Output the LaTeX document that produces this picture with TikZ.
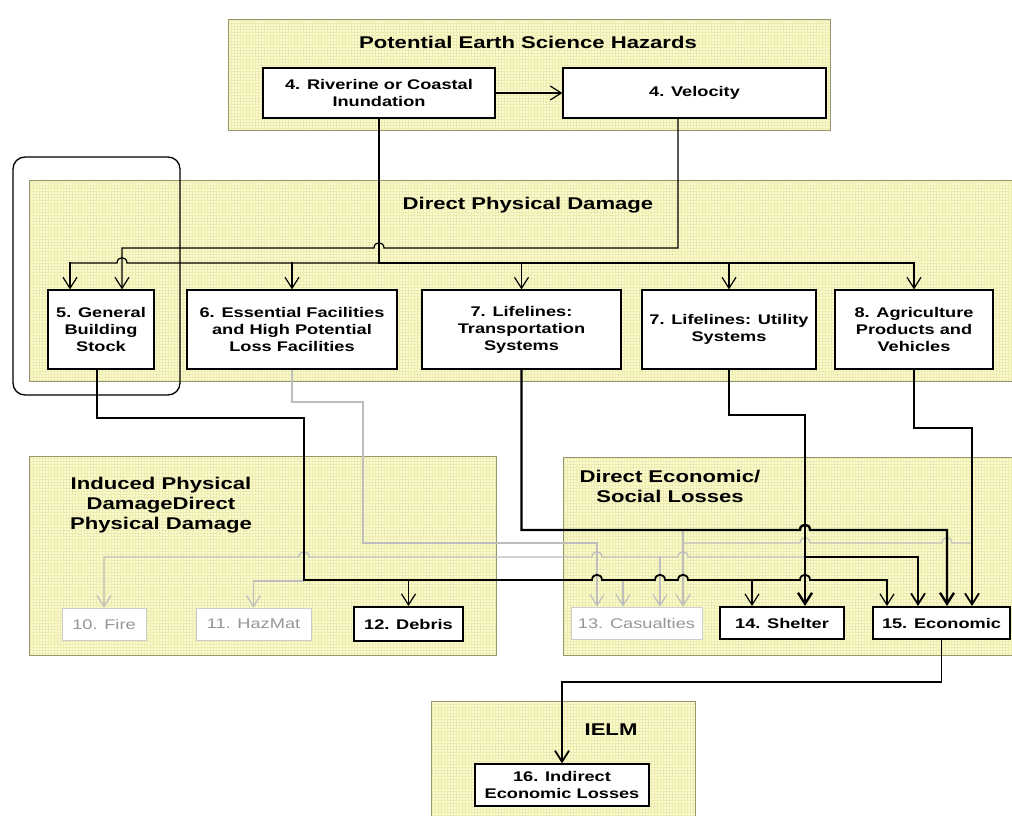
\documentclass[tikz,border=0pt]{standalone}
\usepackage{fontspec}
\setmainfont{Liberation Sans}[FakeStretch=1.3]
\usetikzlibrary{arrows.meta,patterns}

\definecolor{panelfill}{RGB}{251,251,206}
\definecolor{panelgrid}{RGB}{236,236,178}
\definecolor{paneledge}{RGB}{150,150,110}
\definecolor{faintline}{RGB}{190,190,190}
\definecolor{faintedge}{RGB}{205,205,205}
\definecolor{fainttext}{RGB}{150,150,150}

\begin{document}
\begin{tikzpicture}[x=1pt, y=-1pt, >={Straight Barb[length=11pt,width=14pt]},
    panel/.style={preaction={fill=panelfill}, pattern=grid, pattern color=panelgrid, draw=paneledge, line width=0.8pt},
    paneltitle/.style={font=\fontsize{17}{20}\selectfont\bfseries, align=center},
    stage/.style={draw, fill=white, line width=1.3pt, inner sep=0pt, align=center, font=\fontsize{14}{17}\selectfont\bfseries},
    keystage/.style={stage, line width=2pt},
    faintstage/.style={stage, draw=faintedge, line width=0.8pt, text=fainttext, font=\fontsize{14}{17}\selectfont},
    link/.style={line width=1.2pt},
    midlink/.style={line width=1.8pt},
    heavylink/.style={line width=2.4pt},
    faintlink/.style={draw=faintline, line width=1.2pt},
    hopr/.style 2 args={insert path={-- ({#1-5},#2) .. controls ({#1-5},{#2-7}) and ({#1+5},{#2-7}) .. ({#1+5},#2)}},
    hopl/.style 2 args={insert path={-- ({#1+5},#2) .. controls ({#1+5},{#2-7}) and ({#1-5},{#2-7}) .. ({#1-5},#2)}}]
  \useasboundingbox (0,0) rectangle (1012,815);
  % panels
  \draw[panel] (228,19) rectangle (830,130);
  \draw[panel] (29,180) rectangle (1015,381);
  \draw[panel] (29,456) rectangle (496,655);
  \draw[panel] (563,457) rectangle (1015,655);
  \draw[panel] (431,701) rectangle (695,820);
  \node[paneltitle] (hazardtitle) at (528,42) {Potential Earth Science Hazards};
  \node[paneltitle] (physicaltitle) at (528,205) {Direct Physical Damage};
  \node[paneltitle] (inducedtitle) at (161,505) {Induced Physical\\DamageDirect\\Physical Damage};
  \node[paneltitle] (losstitle) at (670,486) {Direct Economic/\\Social Losses};
  \node[paneltitle] (ielmtitle) at (611,730) {IELM};
  \draw[line width=1.3pt, rounded corners=12pt] (13,157) rectangle (180,395);
  % hazard boxes
  \node[stage, minimum width=232pt, minimum height=50pt] (riverine) at (379,93) {4. Riverine or Coastal\\Inundation};
  \node[stage, minimum width=263pt, minimum height=50pt] (velocity) at (694.5,93) {4. Velocity};
  % physical damage boxes
  \foreach \name/\cx/\w/\txt in {bldg/101/106/{5. General\\Building\\Stock},
      essential/292/210/{6. Essential Facilities\\and High Potential\\Loss Facilities},
      transport/521.5/199/{7. Lifelines:\\Transportation\\Systems},
      utility/729/174/{7. Lifelines: Utility\\Systems},
      agri/914/158/{8. Agriculture\\Products and\\Vehicles}} {
    \node[stage, minimum width=\w pt, minimum height=79pt] (\name) at (\cx,329.5) {\txt};
  }
  % loss boxes
  \node[faintstage, minimum width=84pt, minimum height=32pt] (fire) at (104,624) {10. Fire};
  \node[faintstage, minimum width=115pt, minimum height=32pt] (hazmat) at (253.5,624) {11. HazMat};
  \node[keystage, minimum width=109pt, minimum height=34pt] (debris) at (408.5,624) {12. Debris};
  \node[faintstage, minimum width=131pt, minimum height=32pt] (casualties) at (636.5,623) {13. Casualties};
  \node[keystage, minimum width=124pt, minimum height=32pt] (shelter) at (782,623) {14. Shelter};
  \node[keystage, minimum width=137pt, minimum height=32pt] (economic) at (941.5,623) {15. Economic};
  \node[stage, minimum width=174pt, minimum height=42pt] (indirect) at (562,785) {16. Indirect\\Economic Losses};

  % hazards to physical damage
  \draw[link,->] (riverine.east) -- (velocity.west);
  \draw[heavylink] (riverine.south) -- (379,263) -- (729,263);
  \draw[link] (379,263) [hopl={122}{263}] -- (70,263);
  \draw[link] (729,263) -- (914,263);
  \foreach \name in {essential, transport, utility, agri} {
    \draw[link,->] ([yshift=27pt]\name.north) -- (\name.north);
  }
  \draw[link,->] ([xshift=-31pt,yshift=27pt]bldg.north) -- ([xshift=-31pt]bldg.north);
  \draw[link,->] ([xshift=-16.5pt]velocity.south) -- (678,248) [hopl={379}{248}] -- (122,248) -- ([xshift=21pt]bldg.north);

  % faint links
  \draw[faintlink,->] (essential.south) -- (292,402) -- (363,402) -- (363,543) -| ([xshift=-39.5pt]casualties.north);
  \draw[faintlink,->] (805,557) [hopl={683}{557}] [hopl={597}{557}] [hopl={304}{557}] -| (fire.north);
  \draw[faintlink,->] (660,557) -- ([xshift=23.5pt]casualties.north);
  \draw[faintlink,->] (683,530) -- ([xshift=46.5pt]casualties.north);
  \draw[faintlink] (972,543) [hopl={947}{543}] [hopl={805}{543}] -- (683,543);
  \draw[faintlink,->] (304,581) -| (hazmat.north);
  \draw[faintlink,->] (623,581) -- ([xshift=-13.5pt]casualties.north);

  % physical damage to losses
  \draw[midlink] ([xshift=-4pt]bldg.south) -- (97,418) -- (304,418) -- (304,580) [hopr={597}{580}] [hopr={660}{580}] [hopr={683}{580}] [hopr={805}{580}] -- (887,580);
  \draw[link,->] ([yshift=27pt]debris.north) -- (debris.north);
  \draw[link,->] ([xshift=-30pt,yshift=27pt]shelter.north) -- ([xshift=-30pt]shelter.north);
  \draw[link,->] ([xshift=-54.5pt,yshift=27pt]economic.north) -- ([xshift=-54.5pt]economic.north);
  \draw[heavylink,->] (transport.south) -- (521.5,530) [hopr={805}{530}] -| ([xshift=5.5pt]economic.north);
  \draw[heavylink,->] (utility.south) -- (729,415) -| ([xshift=23pt]shelter.north);
  \draw[midlink,->] (805,557) -| ([xshift=-23.5pt]economic.north);
  \draw[midlink,->] (agri.south) -- (914,428) -| ([xshift=30.5pt]economic.north);
  % losses to indirect losses
  \draw[midlink,->] (economic.south) -- (941.5,682) -| (indirect.north);
\end{tikzpicture}
\end{document}
